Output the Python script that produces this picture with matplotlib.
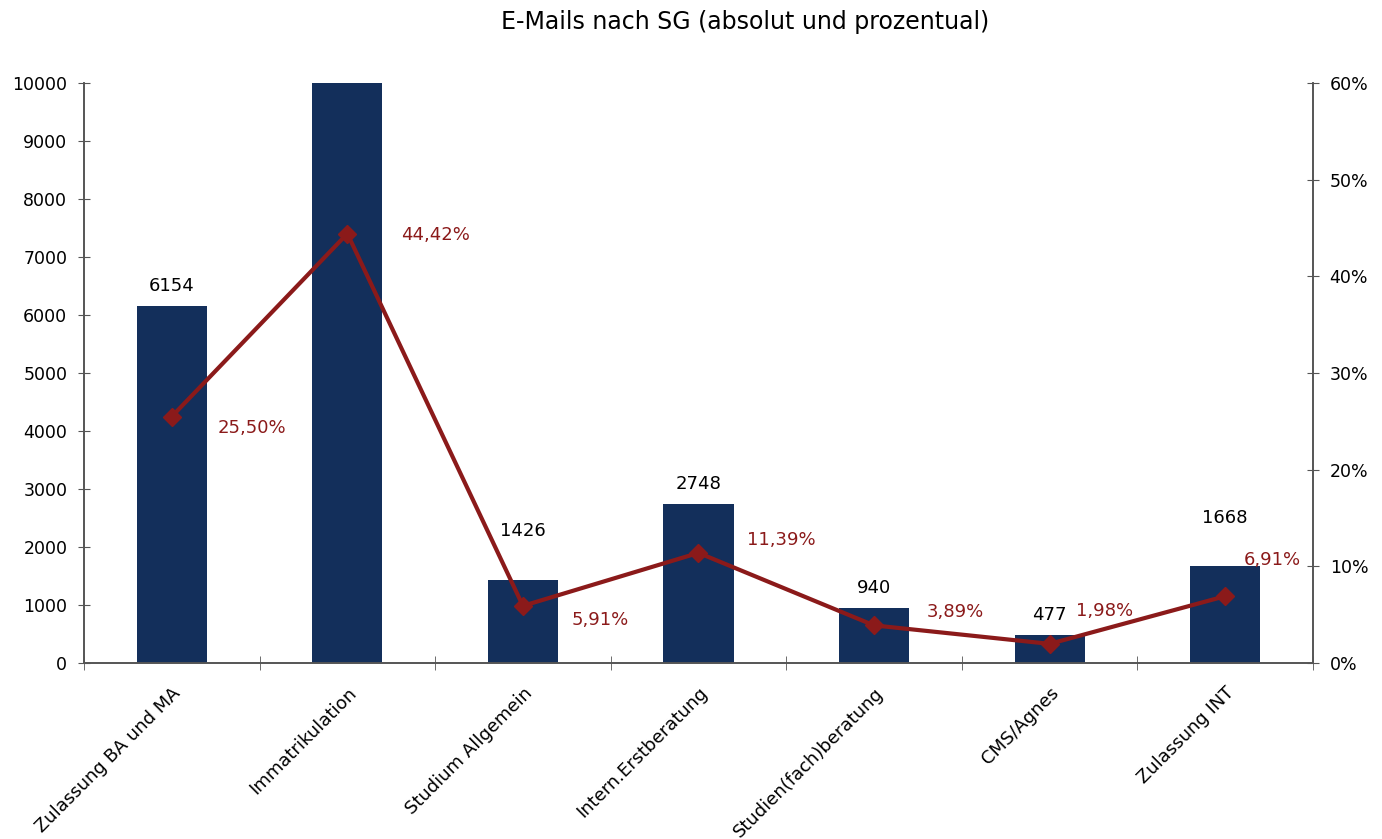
import matplotlib
matplotlib.use("Agg")
import matplotlib.pyplot as plt
from matplotlib.ticker import FuncFormatter, MultipleLocator

categories = ["Zulassung BA und MA", "Immatrikulation", "Studium Allgemein",
              "Intern.Erstberatung", "Studien(fach)beratung", "CMS/Agnes", "Zulassung INT"]
counts = [6154, 10720, 1426, 2748, 940, 477, 1668]
percents = [25.50, 44.42, 5.91, 11.39, 3.89, 1.98, 6.91]
title = "E-Mails nach SG (absolut und prozentual)"

bar_color = "#132F5B"
line_color = "#8B1A1A"

# label offsets (points), layout only
pct_offsets = [(33, -8), (39, -1), (35, -10), (35, 9), (38, 10), (19, 24), (13, 26)]
val_offsets = [8, 8, 29, 8, 8, 8, 28]

plt.rcParams['font.family'] = ['DejaVu Sans']
fig = plt.figure(figsize=(13.82, 8.39), dpi=100)
ax = fig.add_axes([84/1382, 1-663/839, (1313-84)/1382, (663-83)/839])
ax2 = ax.twinx()

x = list(range(len(categories)))
ax.bar(x, counts, width=0.4, color=bar_color, zorder=2)
ax.set_ylim(0, 10000)
ax.set_xlim(-0.5, len(categories) - 0.5)
ax.yaxis.set_major_locator(MultipleLocator(1000))
for xi, v, off in zip(x, counts, val_offsets):
    if v <= 10000:
        ax.annotate(f"{v}", (xi, v), xytext=(0, off), textcoords="offset points",
                    ha="center", va="bottom", fontsize=13, color="black")

ax2.plot(x, percents, color=line_color, lw=3, marker="D", markersize=9, zorder=3)
ax2.set_ylim(0, 60)
ax2.yaxis.set_major_locator(MultipleLocator(10))
ax2.yaxis.set_major_formatter(FuncFormatter(lambda v, p: f"{v:.0f}%"))
for xi, p, off in zip(x, percents, pct_offsets):
    ax2.annotate(f"{p:.2f}%".replace(".", ","), (xi, p), xytext=off, textcoords="offset points",
                 ha="left", va="center", fontsize=13, color=line_color)

ax.set_xticks(x)
ax.set_xticklabels(categories, rotation=45, ha="right", rotation_mode="anchor", fontsize=13)
ax.tick_params(axis="x", length=0, pad=15)
ax.set_xticks([i + 0.5 for i in range(-1, len(categories))], minor=True)
ax.tick_params(axis="x", which="minor", length=10, direction="inout", color="#555555")

ax.tick_params(axis="y", direction="inout", length=8, labelsize=12.5, color="#555555", pad=8)
ax2.tick_params(axis="y", direction="inout", length=8, labelsize=12.5, color="#555555", pad=8)

for a in (ax, ax2):
    a.spines["top"].set_visible(False)
    for s in ("left", "right", "bottom"):
        a.spines[s].set_color("#555555")
        a.spines[s].set_linewidth(1.2)

fig.text(745/1382, 1-22/839, title, ha="center", va="center", fontsize=17)
fig.savefig("out.png", dpi=100, facecolor="white")
